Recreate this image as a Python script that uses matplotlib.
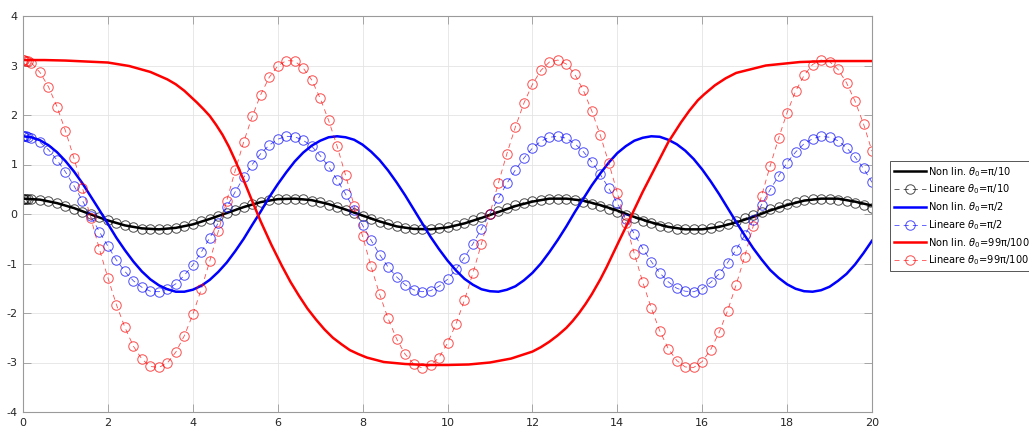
import numpy as np
import matplotlib.pyplot as plt

plt.rcParams['axes.unicode_minus'] = False

# sample times (ode output)
t_nl = np.round(np.arange(0, 20.01, 0.4), 2)
t_nl2 = np.round(np.arange(0, 20.01, 0.2), 2)
t_lin = [0, 0.03, 0.07, 0.12] + list(np.round(np.arange(0.2, 20.01, 0.2), 2))

nl_pi10 = [0.31, 0.29, 0.22, 0.12, -0.01, -0.13, -0.23, -0.29, -0.31, -0.28,
           -0.21, -0.10, 0.02, 0.14, 0.24, 0.30, 0.31, 0.28, 0.20, 0.09,
           -0.03, -0.15, -0.25, -0.30, -0.31, -0.27, -0.19, -0.08, 0.04, 0.16,
           0.25, 0.31, 0.31, 0.27, 0.18, 0.07, -0.06, -0.17, -0.26, -0.31,
           -0.31, -0.26, -0.17, -0.06, 0.07, 0.18, 0.27, 0.31, 0.31, 0.25,
           0.17]

lin_pi10 = [0.31, 0.31, 0.31, 0.31,
            0.31, 0.29, 0.26, 0.22, 0.17, 0.11, 0.05, -0.01, -0.07, -0.13,
            -0.18, -0.23, -0.27, -0.30, -0.31, -0.31, -0.30, -0.28, -0.25, -0.21,
            -0.15, -0.10, -0.04, 0.03, 0.09, 0.15, 0.20, 0.24, 0.28, 0.30,
            0.31, 0.31, 0.30, 0.27, 0.24, 0.19, 0.14, 0.08, 0.02, -0.05,
            -0.11, -0.16, -0.21, -0.25, -0.29, -0.31, -0.31, -0.31, -0.29, -0.26,
            -0.22, -0.18, -0.12, -0.06, 0.00, 0.06, 0.12, 0.18, 0.23, 0.27,
            0.29, 0.31, 0.31, 0.31, 0.28, 0.25, 0.21, 0.16, 0.10, 0.04,
            -0.02, -0.08, -0.14, -0.19, -0.24, -0.27, -0.30, -0.31, -0.31, -0.30,
            -0.28, -0.24, -0.20, -0.14, -0.09, -0.03, 0.04, 0.10, 0.15, 0.21,
            0.25, 0.28, 0.30, 0.31, 0.31, 0.29, 0.27, 0.23, 0.18, 0.13]

nl_pi2 = [1.57, 1.55, 1.49, 1.39, 1.25, 1.07, 0.86, 0.62, 0.35, 0.08,
          -0.20, -0.48, -0.73, -0.96, -1.16, -1.32, -1.44, -1.52, -1.57, -1.57,
          -1.53, -1.45, -1.33, -1.17, -0.98, -0.75, -0.50, -0.22, 0.05, 0.34,
          0.60, 0.84, 1.06, 1.24, 1.38, 1.48, 1.55, 1.57, 1.55, 1.50,
          1.40, 1.26, 1.09, 0.88, 0.64, 0.38, 0.10, -0.18, -0.46, -0.71,
          -0.94, -1.14, -1.31, -1.43, -1.52, -1.56, -1.57, -1.53, -1.46, -1.34,
          -1.19, -1.00, -0.77, -0.52, -0.25, 0.04, 0.31, 0.58, 0.82, 1.04,
          1.23, 1.37, 1.48, 1.54, 1.57, 1.56, 1.50, 1.41, 1.28, 1.11,
          0.90, 0.66, 0.40, 0.12, -0.16, -0.43, -0.69, -0.92, -1.13, -1.29,
          -1.42, -1.51, -1.56, -1.57, -1.54, -1.47, -1.35, -1.21, -1.02, -0.79,
          -0.54]

lin_pi2 = [1.57, 1.57, 1.57, 1.56,
           1.54, 1.45, 1.30, 1.09, 0.85, 0.57, 0.27, -0.05, -0.36, -0.65,
           -0.93, -1.16, -1.35, -1.48, -1.56, -1.57, -1.52, -1.41, -1.24, -1.03,
           -0.77, -0.48, -0.18, 0.14, 0.45, 0.74, 1.00, 1.22, 1.39, 1.51,
           1.57, 1.56, 1.49, 1.37, 1.18, 0.96, 0.69, 0.40, 0.09, -0.23,
           -0.53, -0.82, -1.07, -1.27, -1.43, -1.53, -1.57, -1.55, -1.46, -1.32,
           -1.12, -0.88, -0.60, -0.30, 0.01, 0.32, 0.62, 0.89, 1.13, 1.33,
           1.47, 1.55, 1.57, 1.53, 1.42, 1.26, 1.05, 0.80, 0.52, 0.22,
           -0.10, -0.40, -0.70, -0.96, -1.19, -1.37, -1.50, -1.56, -1.57, -1.51,
           -1.38, -1.21, -0.98, -0.72, -0.43, -0.13, 0.19, 0.49, 0.77, 1.04,
           1.25, 1.42, 1.52, 1.57, 1.55, 1.48, 1.34, 1.15, 0.92, 0.64]

t_nl99 = [0, 0.5, 1.0, 1.5, 2.0, 2.5, 3.0, 3.4, 3.6, 3.8,
          4.1, 4.25, 4.4, 4.55, 4.7, 4.85, 5.0, 5.2, 5.4, 5.6,
          5.85, 6.1, 6.3, 6.5, 6.7, 6.9, 7.1, 7.3, 7.5, 7.7,
          7.9, 8.1, 8.5, 9.0, 9.5, 10.0, 10.5, 11.0, 11.5, 12.0,
          12.2, 12.4, 12.6, 12.8, 12.95, 13.1, 13.25, 13.4, 13.6, 13.75,
          14.05, 14.35, 14.6, 14.9, 15.2, 15.5, 15.7, 15.9, 16.05, 16.3,
          16.55, 16.8, 17.5, 18.3, 19.0, 20.0]
nl_99 = [3.11, 3.11, 3.10, 3.08, 3.06, 2.99, 2.87, 2.72, 2.62, 2.49,
         2.25, 2.12, 1.98, 1.80, 1.60, 1.36, 1.08, 0.68, 0.26, -0.15,
         -0.62, -1.05, -1.37, -1.65, -1.91, -2.13, -2.33, -2.50, -2.63, -2.75,
         -2.83, -2.90, -2.99, -3.03, -3.05, -3.05, -3.04, -3.00, -2.92, -2.78,
         -2.69, -2.58, -2.45, -2.30, -2.16, -2.00, -1.82, -1.62, -1.32, -1.07,
         -0.53, 0.00, 0.45, 0.95, 1.45, 1.85, 2.09, 2.30, 2.42, 2.60,
         2.74, 2.85, 3.00, 3.07, 3.09, 3.09]

lin_99 = [3.11, 3.11, 3.10, 3.09,
          3.05, 2.86, 2.57, 2.17, 1.68, 1.13, 0.53, -0.09, -0.71, -1.29,
          -1.83, -2.29, -2.67, -2.93, -3.08, -3.10, -3.01, -2.79, -2.46, -2.03,
          -1.52, -0.95, -0.35, 0.27, 0.88, 1.46, 1.97, 2.41, 2.76, 2.99,
          3.10, 3.09, 2.95, 2.71, 2.34, 1.89, 1.37, 0.78, 0.17, -0.45,
          -1.06, -1.62, -2.11, -2.52, -2.83, -3.03, -3.11, -3.06, -2.90, -2.61,
          -2.22, -1.74, -1.19, -0.60, 0.01, 0.63, 1.22, 1.76, 2.24, 2.62,
          2.90, 3.07, 3.11, 3.03, 2.82, 2.50, 2.08, 1.59, 1.03, 0.43,
          -0.19, -0.80, -1.38, -1.90, -2.36, -2.72, -2.96, -3.09, -3.10, -2.98,
          -2.74, -2.39, -1.95, -1.43, -0.86, -0.25, 0.37, 0.97, 1.53, 2.05,
          2.48, 2.80, 3.02, 3.11, 3.08, 2.92, 2.65, 2.28, 1.82, 1.27]

labels = [r'Non lin. $\theta_0$=π/10', r'Lineare $\theta_0$=π/10',
          r'Non lin. $\theta_0$=π/2', r'Lineare $\theta_0$=π/2',
          r'Non lin. $\theta_0$=99π/100', r'Lineare $\theta_0$=99π/100']

fig = plt.figure(figsize=(10.29, 4.28), dpi=100)
ax = fig.add_axes([23/1029, 16/428, 849/1029, 396/428])

lw = 1.8
mk = dict(marker='o', markersize=6.8, markerfacecolor='none', markeredgewidth=0.7,
          lw=0.6, ls=(0, (6, 5)), alpha=0.7)

ax.plot(t_nl, nl_pi10, color='black', lw=lw, label=labels[0])
ax.plot(t_lin, lin_pi10, color='black', label=labels[1], **mk)
ax.plot(t_nl2, nl_pi2, color='blue', lw=lw, label=labels[2])
ax.plot(t_lin, lin_pi2, color='blue', label=labels[3], **mk)
ax.plot(t_nl99, nl_99, color='red', lw=lw, label=labels[4])
ax.plot(t_lin, lin_99, color='red', label=labels[5], **mk)

ax.set_xlim(0, 20)
ax.set_ylim(-4, 4)
ax.set_xticks(range(0, 21, 2))
ax.set_yticks(range(-4, 5))
ax.grid(True, color='#e4e4e4', lw=0.6)
ax.set_axisbelow(True)
for s in ax.spines.values():
    s.set_color('#9a9a9a')
    s.set_linewidth(0.8)
ax.tick_params(direction='in', length=6, width=0.6, color='#9a9a9a',
               top=True, right=True, labelsize=8, labelcolor='#262626', pad=4)

leg = ax.legend(loc='upper left', bbox_to_anchor=(890/1029, 1 - 161/428),
                bbox_transform=fig.transFigure, borderaxespad=0, fontsize=7.1,
                fancybox=False, edgecolor='#555555', framealpha=1,
                handlelength=3.2, handletextpad=0.3, labelspacing=0.4,
                borderpad=0.4)
leg.get_frame().set_linewidth(0.7)

fig.savefig('out.png', dpi=100)
